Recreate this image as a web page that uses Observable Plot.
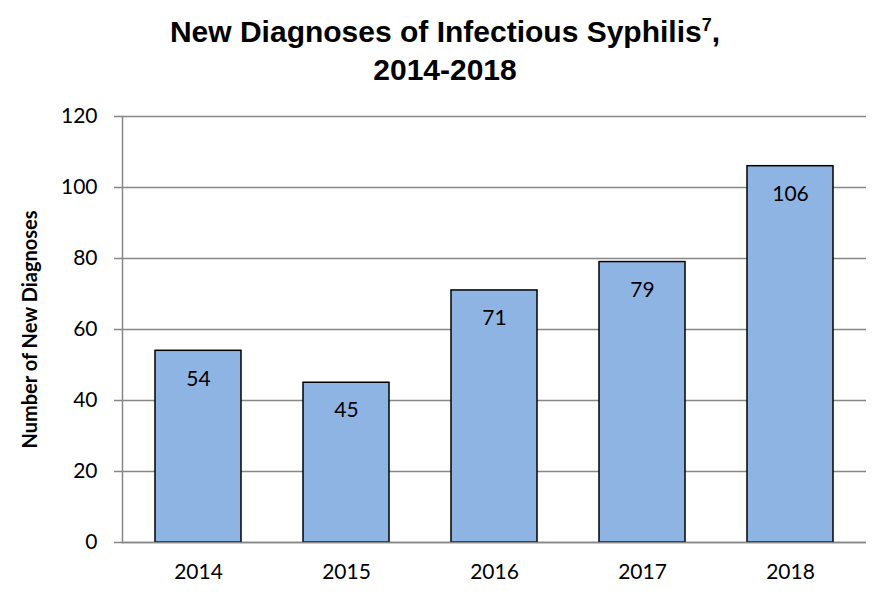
<!DOCTYPE html>
<html>
<head>
<meta charset="utf-8">
<script src="https://cdn.jsdelivr.net/npm/d3@7"></script>
<script src="https://cdn.jsdelivr.net/npm/@observablehq/plot@0.6"></script>
<style>
  html, body { margin: 0; padding: 0; background: #fff; }
  #title { height: 100px; box-sizing: border-box; padding-top: 13px; padding-left: 2px; text-align: center;
    font-family: "Liberation Sans", Arial, sans-serif; font-weight: bold; font-size: 30px; line-height: 38px; color: #000;
    width: 888px; }
  #title sup { font-size: 18px; line-height: 0; }
</style>
</head>
<body>
<div id="title">New Diagnoses of Infectious Syphilis<sup>7</sup>,<br>2014-2018</div>
<div id="chart"></div>
<script>
const years = ["2014", "2015", "2016", "2017", "2018"];
const diagnoses = [54, 45, 71, 79, 106];
const yTicks = [0, 20, 40, 60, 80, 100, 120];
const yLabel = "Number of New Diagnoses";

const data = years.map((y, i) => ({year: y, value: diagnoses[i]}));

const chart = Plot.plot({
  width: 888,
  height: 503,
  marginTop: 16,
  marginBottom: 61,
  marginLeft: 122,
  marginRight: 22,
  style: {fontFamily: "Lato, 'Open Sans', sans-serif", fontSize: "21px", color: "#000", background: "#fff"},
  x: {domain: years, paddingInner: 0.42, paddingOuter: 0.21, label: null},
  y: {domain: [0, 120], ticks: yTicks, label: null},
  marks: [
    Plot.ruleY(yTicks, {stroke: "#878787", strokeWidth: 1.5}),
    Plot.axisY({ticks: yTicks, tickSize: 8, tickPadding: 17, stroke: "#878787", strokeWidth: 1.5, strokeOpacity: 1, label: null, fontSize: 21}),
    Plot.axisX({tickSize: 0, tickPadding: 22, label: null, fontSize: 21}),
    Plot.frame({anchor: "left", stroke: "#878787", strokeWidth: 1.5}),
    Plot.barY(data, {x: "year", y: "value", fill: "#8EB4E3", stroke: "#000", strokeWidth: 1.5}),
    Plot.text(data, {x: "year", y: "value", text: d => String(d.value), dy: 28, fontSize: 21, fill: "#000"}),
    Plot.ruleY([0], {stroke: "#878787", strokeWidth: 1.5}),
    Plot.text([yLabel], {frameAnchor: "left", textAnchor: "middle", dx: -92, rotate: -90, fontWeight: "bold", fontSize: 20,
      fontFamily: "Lato, 'Open Sans', sans-serif", fill: "#000"})
  ]
});
document.getElementById("chart").appendChild(chart);
</script>
</body>
</html>
